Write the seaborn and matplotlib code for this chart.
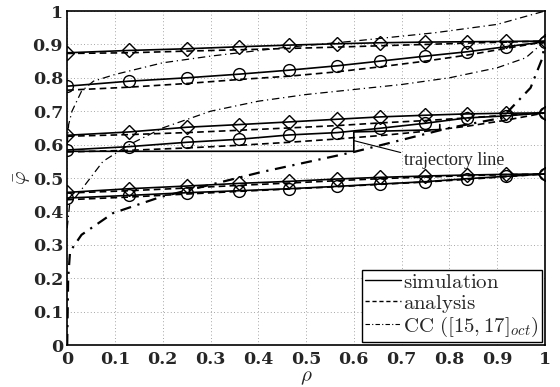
import numpy as np
import pandas as pd
import matplotlib
matplotlib.use("Agg")
import matplotlib.pyplot as plt
import seaborn as sns
from matplotlib.lines import Line2D

# ---- data ----
rho = [0, 0.13, 0.25, 0.36, 0.465, 0.565, 0.655, 0.75, 0.837, 0.918, 1.0]

sim_top_diamond = [0.875, 0.882, 0.887, 0.893, 0.898, 0.902, 0.905, 0.907, 0.908, 0.909, 0.91]
sim_top_circle = [0.775, 0.79, 0.80, 0.811, 0.823, 0.836, 0.85, 0.865, 0.878, 0.893, 0.908]
sim_mid_diamond = [0.628, 0.638, 0.652, 0.66, 0.668, 0.676, 0.683, 0.688, 0.692, 0.694, 0.695]
sim_mid_circle = [0.584, 0.594, 0.607, 0.616, 0.629, 0.636, 0.649, 0.664, 0.68, 0.686, 0.695]
sim_bot_diamond = [0.457, 0.468, 0.476, 0.484, 0.49, 0.497, 0.502, 0.506, 0.509, 0.511, 0.512]
sim_bot_circle = [0.44, 0.448, 0.456, 0.462, 0.468, 0.475, 0.482, 0.489, 0.498, 0.505, 0.512]

ana_top_diamond = [0.873, 0.875, 0.88, 0.884, 0.888, 0.892, 0.896, 0.9, 0.904, 0.907, 0.91]
ana_top_circle = [0.763, 0.772, 0.783, 0.795, 0.805, 0.818, 0.833, 0.85, 0.868, 0.888, 0.908]
ana_mid_diamond = [0.625, 0.63, 0.636, 0.643, 0.65, 0.657, 0.665, 0.672, 0.68, 0.688, 0.695]
ana_mid_circle = [0.578, 0.583, 0.59, 0.598, 0.607, 0.617, 0.627, 0.64, 0.655, 0.673, 0.695]
ana_bot_diamond = [0.455, 0.462, 0.47, 0.478, 0.485, 0.492, 0.498, 0.503, 0.507, 0.51, 0.512]
ana_bot_circle = [0.435, 0.443, 0.452, 0.46, 0.467, 0.474, 0.481, 0.488, 0.496, 0.504, 0.512]

cc_top_x = [0, 0.003, 0.01, 0.03, 0.055, 0.1, 0.2, 0.3, 0.45, 0.6, 0.77, 0.9, 1.0]
cc_top_y = [0.6, 0.66, 0.70, 0.76, 0.79, 0.81, 0.845, 0.865, 0.89, 0.91, 0.935, 0.96, 1.0]
cc_mid_x = [0, 0.005, 0.027, 0.075, 0.13, 0.2, 0.3, 0.4, 0.5, 0.6, 0.7, 0.8, 0.9, 0.96, 1.0]
cc_mid_y = [0.35, 0.42, 0.46, 0.55, 0.60, 0.65, 0.70, 0.73, 0.75, 0.765, 0.78, 0.80, 0.83, 0.86, 0.91]
cc_bot_x = [0, 0.002, 0.006, 0.03, 0.096, 0.195, 0.3, 0.404, 0.6, 0.8, 0.91, 0.97, 0.995, 1.0]
cc_bot_y = [0, 0.2, 0.28, 0.33, 0.395, 0.443, 0.48, 0.517, 0.578, 0.65, 0.68, 0.77, 0.86, 0.91]

traj_x = [0, 0.6, 0.6, 0.78, 0.78]
traj_y = [0.58, 0.58, 0.638, 0.645, 0.66]

legend_labels = [r"$\mathrm{simulation}$", r"$\mathrm{analysis}$", r"$\mathrm{CC}\ ([15,17]_{oct})$"]

# ---- style ----
sns.set_style("white")
plt.rcParams["mathtext.fontset"] = "cm"
plt.rcParams["font.family"] = ["Liberation Serif", "DejaVu Serif"]

fig = plt.figure(figsize=(5.6, 3.87), dpi=100)
ax = fig.add_axes([0.12, 0.1085, 0.853, 0.863])

sims = [(sim_top_diamond, "D"), (sim_top_circle, "o"), (sim_mid_diamond, "D"),
        (sim_mid_circle, "o"), (sim_bot_diamond, "D"), (sim_bot_circle, "o")]
for vals, mk in sims:
    ms = 7 if mk == "D" else 8.5
    sns.lineplot(x=rho, y=vals, ax=ax, color="k", lw=1.2, marker=mk, markersize=ms,
                 markerfacecolor="none", markeredgecolor="k", markeredgewidth=1.0)

for vals in [ana_top_diamond, ana_top_circle, ana_mid_diamond, ana_mid_circle,
             ana_bot_diamond, ana_bot_circle]:
    sns.lineplot(x=rho, y=vals, ax=ax, color="k", lw=1.2, linestyle=(0, (4, 2.5)))

sns.lineplot(x=cc_top_x, y=cc_top_y, ax=ax, color="k", lw=0.9, linestyle=(0, (6, 3, 1, 3)))
sns.lineplot(x=cc_mid_x, y=cc_mid_y, ax=ax, color="k", lw=0.9, linestyle=(0, (6, 3, 1, 3)))
sns.lineplot(x=cc_bot_x, y=cc_bot_y, ax=ax, color="k", lw=1.6, linestyle=(0, (5, 3, 1, 3)))

sns.lineplot(x=traj_x, y=traj_y, ax=ax, color="k", lw=1.2, sort=False, estimator=None)
ax.annotate("trajectory line", xy=(0.6, 0.612), xytext=(0.705, 0.54),
            fontsize=13, family="Liberation Serif",
            arrowprops=dict(arrowstyle="-", color="k", lw=0.8, shrinkA=0, shrinkB=0,
                            relpos=(0.0, 0.9)))

ax.set_xlim(0, 1)
ax.set_ylim(0, 1)
ticks = np.round(np.arange(0, 1.01, 0.1), 1)
ax.set_xticks(ticks)
ax.set_yticks(ticks)
tick_text = ["0" if t == 0 else "1" if t == 1 else "%.1f" % t for t in ticks]
ax.set_xticklabels(tick_text, fontsize=12.5, fontweight="bold", family="DejaVu Serif")
ax.set_yticklabels(tick_text, fontsize=12.5, fontweight="bold", family="DejaVu Serif")
ax.tick_params(axis="x", direction="in", length=4, width=0.8, color="k", pad=4)
ax.tick_params(axis="y", direction="in", length=4, width=0.8, color="k", pad=3)
ax.grid(True, linestyle=(0, (1, 3)), color="#888888", lw=0.6)
for s in ax.spines.values():
    s.set_color("k")
    s.set_linewidth(1.2)

ax.set_xlabel(r"$\rho$", fontsize=15, labelpad=0)
ax.set_ylabel(r"$\bar{\varphi}$", fontsize=15, labelpad=0)

handles = [Line2D([], [], color="k", lw=1.0),
           Line2D([], [], color="k", lw=1.0, linestyle=(0, (3, 2))),
           Line2D([], [], color="k", lw=0.8, linestyle=(0, (4, 2, 1, 2)))]
leg = ax.legend(handles, legend_labels, loc="lower right", fontsize=15, frameon=True,
                fancybox=False, edgecolor="k", framealpha=1, handlelength=1.7,
                handletextpad=0.1, borderpad=0.15, labelspacing=0.0,
                borderaxespad=0.15)
leg.get_frame().set_linewidth(1.0)

fig.savefig("out.png", dpi=100)
